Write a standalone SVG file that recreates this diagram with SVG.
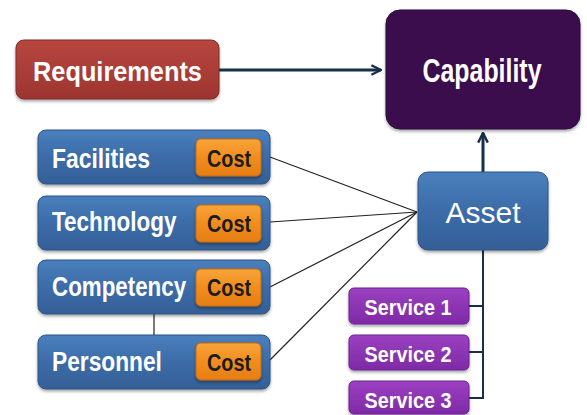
<svg xmlns="http://www.w3.org/2000/svg" width="587" height="415" viewBox="0 0 587 415">
<defs>
<linearGradient id="gBlue" x1="0" y1="0" x2="0" y2="1">
<stop offset="0" stop-color="#4a7fbd"/><stop offset="0.5" stop-color="#3c6ca8"/><stop offset="1" stop-color="#345f96"/>
</linearGradient>
<linearGradient id="gRed" x1="0" y1="0" x2="0" y2="1">
<stop offset="0" stop-color="#b8463f"/><stop offset="1" stop-color="#9c3530"/>
</linearGradient>
<linearGradient id="gOrange" x1="0" y1="0" x2="0" y2="1">
<stop offset="0" stop-color="#f9a43a"/><stop offset="0.5" stop-color="#f28d1e"/><stop offset="1" stop-color="#e57e12"/>
</linearGradient>
<linearGradient id="gPurple" x1="0" y1="0" x2="0" y2="1">
<stop offset="0" stop-color="#9a40c0"/><stop offset="1" stop-color="#7f2aa6"/>
</linearGradient>
<filter id="sh" x="-10%" y="-10%" width="120%" height="130%">
<feDropShadow dx="0" dy="2" stdDeviation="1.5" flood-color="#000" flood-opacity="0.35"/>
</filter>
<marker id="arr" viewBox="0 0 10 10" refX="9" refY="5" markerWidth="4" markerHeight="4" orient="auto" markerUnits="strokeWidth">
<path d="M1,1 L9,5 L1,9" fill="none" stroke="#15304a" stroke-width="2"/>
</marker>
</defs>
<style>
.t{font-family:"Liberation Sans",Arial,sans-serif;font-weight:bold;fill:#fff}
.c{font-family:"Liberation Sans",Arial,sans-serif;font-weight:bold;fill:#1c1c1c;font-size:24px;text-anchor:middle}
.blue{fill:url(#gBlue);stroke:#2c5384;stroke-width:1;filter:url(#sh)}
.cost{fill:url(#gOrange);stroke:#c9690c;stroke-width:1;filter:url(#sh)}
.svc{fill:url(#gPurple);stroke:#6a2290;stroke-width:1;filter:url(#sh)}
.thin{stroke:#222;stroke-width:1.2;fill:none}
.thick{stroke:#15304a;stroke-width:3;fill:none}
</style>
<g id="connectors">
<line class="thick" x1="219" y1="70" x2="381" y2="70" marker-end="url(#arr)"/>
<line class="thick" x1="483" y1="172" x2="483" y2="133" marker-end="url(#arr)"/>
<line class="thin" x1="270" y1="157" x2="417" y2="212"/>
<line class="thin" x1="270" y1="222" x2="417" y2="212"/>
<line class="thin" x1="270" y1="287" x2="417" y2="212"/>
<line class="thin" x1="270" y1="360" x2="417" y2="212"/>
<line class="thin" x1="154" y1="314" x2="154" y2="335"/>
<polyline points="483,250 483,398 469,398" stroke="#15304a" stroke-width="2" fill="none"/>
<line x1="469" y1="306" x2="483" y2="306" stroke="#15304a" stroke-width="2"/>
<line x1="469" y1="352" x2="483" y2="352" stroke="#15304a" stroke-width="2"/>
</g>
<g id="requirements">
<rect x="16" y="40" width="203" height="59" rx="8" fill="url(#gRed)" stroke="#832a26" filter="url(#sh)"/>
<text class="t" transform="translate(117.5,81) scale(0.905,1)" font-size="28" text-anchor="middle">Requirements</text>
</g>
<g id="capability">
<rect x="386" y="10" width="194" height="119" rx="14" fill="#3a104e" stroke="#2a0a3a" filter="url(#sh)"/>
<text class="t" transform="translate(482,82) scale(0.755,1)" font-size="33" text-anchor="middle">Capability</text>
</g>
<g id="facilities">
<rect class="blue" x="38" y="130" width="232" height="54" rx="8"/>
<text class="t" transform="translate(52,168) scale(0.818,1)" font-size="28">Facilities</text>
<rect class="cost" x="196" y="139" width="65" height="37" rx="5"/>
<text class="c" transform="translate(229,167) scale(0.825,1)">Cost</text>
</g>
<g id="technology">
<rect class="blue" x="38" y="196" width="232" height="54" rx="8"/>
<text class="t" transform="translate(52,231) scale(0.803,1)" font-size="28">Technology</text>
<rect class="cost" x="196" y="205" width="65" height="37" rx="5"/>
<text class="c" transform="translate(229,232) scale(0.825,1)">Cost</text>
</g>
<g id="competency">
<rect class="blue" x="38" y="260" width="232" height="54" rx="8"/>
<text class="t" transform="translate(52,296) scale(0.798,1)" font-size="28">Competency</text>
<rect class="cost" x="196" y="269" width="65" height="37" rx="5"/>
<text class="c" transform="translate(229,296) scale(0.825,1)">Cost</text>
</g>
<g id="personnel">
<rect class="blue" x="38" y="335" width="232" height="54" rx="8"/>
<text class="t" transform="translate(52,371) scale(0.812,1)" font-size="28">Personnel</text>
<rect class="cost" x="196" y="343" width="65" height="37" rx="5"/>
<text class="c" transform="translate(229,371) scale(0.825,1)">Cost</text>
</g>
<g id="asset">
<rect class="blue" x="418" y="172" width="130" height="78" rx="10"/>
<text x="483" y="223" font-family="'Liberation Sans',Arial,sans-serif" font-size="30" fill="#fff" text-anchor="middle">Asset</text>
</g>
<g id="service1">
<rect class="svc" x="349" y="288" width="120" height="36" rx="5"/>
<text class="t" transform="translate(408,315) scale(0.9,1)" font-size="22" text-anchor="middle">Service 1</text>
</g>
<g id="service2">
<rect class="svc" x="349" y="335" width="120" height="35" rx="5"/>
<text class="t" transform="translate(408,362) scale(0.9,1)" font-size="22" text-anchor="middle">Service 2</text>
</g>
<g id="service3">
<rect class="svc" x="349" y="381" width="120" height="33" rx="5"/>
<text class="t" transform="translate(408,408) scale(0.9,1)" font-size="22" text-anchor="middle">Service 3</text>
</g>
</svg>
